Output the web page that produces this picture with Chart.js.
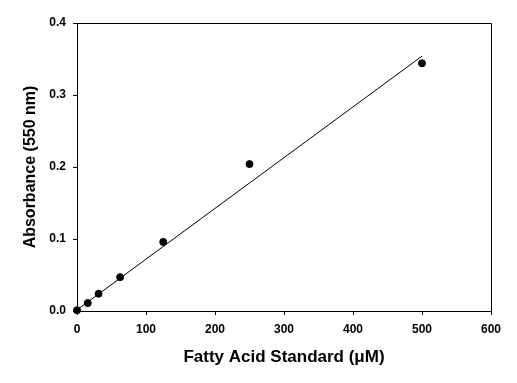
<!DOCTYPE html>
<html>
<head>
<meta charset="utf-8">
<script src="https://cdn.jsdelivr.net/npm/chart.js@4.4.1/dist/chart.umd.min.js"></script>
<style>
  html, body { margin: 0; padding: 0; background: #fff; }
  #wrap { width: 517px; height: 383px; }
</style>
</head>
<body>
<div id="wrap"><canvas id="chart" width="517" height="383"></canvas></div>
<script>
// standard curve points (x in uM, y absorbance)
const concs = [0, 15.6, 31.25, 62.5, 125, 250, 500];
const absorb = [0.001, 0.011, 0.024, 0.047, 0.096, 0.204, 0.344];

// linear fit end points as drawn
const fitX = [0, 500];
const fitY = [0.0015, 0.354];

const xTicks = [0, 100, 200, 300, 400, 500, 600];
const yTicks = [0.0, 0.1, 0.2, 0.3, 0.4];

const tickFont = { family: 'Liberation Sans, Arial, sans-serif', size: 12, weight: 'bold' };
const yTitleFont = { family: 'Liberation Sans, Arial, sans-serif', size: 16, weight: 'bold' };
const xTitleFont = { family: 'Liberation Sans, Arial, sans-serif', size: 17, weight: 'bold' };

// top + right frame lines
const frame = {
  id: 'frame',
  afterDraw(chart) {
    const { ctx, chartArea: a } = chart;
    ctx.save();
    ctx.strokeStyle = '#000';
    ctx.lineWidth = 1;
    ctx.beginPath();
    ctx.moveTo(a.left, a.top + 0.5);
    ctx.lineTo(a.right + 0.5, a.top + 0.5);
    ctx.lineTo(a.right + 0.5, a.bottom);
    ctx.stroke();
    ctx.restore();
  }
};

new Chart(document.getElementById('chart'), {
  type: 'scatter',
  data: {
    datasets: [
      {
        data: concs.map((x, i) => ({ x, y: absorb[i] })),
        backgroundColor: '#000',
        borderColor: '#000',
        pointRadius: 3.5,
        pointHoverRadius: 3.5,
        clip: false
      },
      {
        data: fitX.map((x, i) => ({ x, y: fitY[i] })),
        showLine: true,
        borderColor: '#000',
        borderWidth: 1,
        pointRadius: 0,
        fill: false
      }
    ]
  },
  options: {
    responsive: false,
    animation: false,
    layout: { padding: { top: 23, right: 26, left: 0, bottom: 0 } },
    plugins: { legend: { display: false }, tooltip: { enabled: false } },
    scales: {
      x: {
        type: 'linear',
        min: 0, max: 600,
        afterBuildTicks: s => { s.ticks = xTicks.map(v => ({ value: v })); },
        afterFit: s => { s.height = 72; },
        grid: { drawOnChartArea: false, drawTicks: true, tickLength: 4, color: '#000' },
        border: { display: true, color: '#000', width: 1 },
        ticks: { color: '#000', font: tickFont, padding: 7, maxRotation: 0 },
        title: { display: true, text: 'Fatty Acid Standard (μM)', color: '#000', font: xTitleFont, padding: { top: 0, bottom: 15 } }
      },
      y: {
        type: 'linear',
        min: 0, max: 0.4,
        afterBuildTicks: s => { s.ticks = yTicks.map(v => ({ value: v })); },
        afterFit: s => { s.width = 77; },
        grid: { drawOnChartArea: false, drawTicks: true, tickLength: 4, color: '#000' },
        border: { display: true, color: '#000', width: 1 },
        ticks: { color: '#000', font: tickFont, padding: 7, callback: v => Number(v).toFixed(1) },
        title: { display: true, text: 'Absorbance (550 nm)', color: '#000', font: yTitleFont, padding: { top: 21, bottom: 0 } }
      }
    }
  },
  plugins: [frame]
});
</script>
</body>
</html>
